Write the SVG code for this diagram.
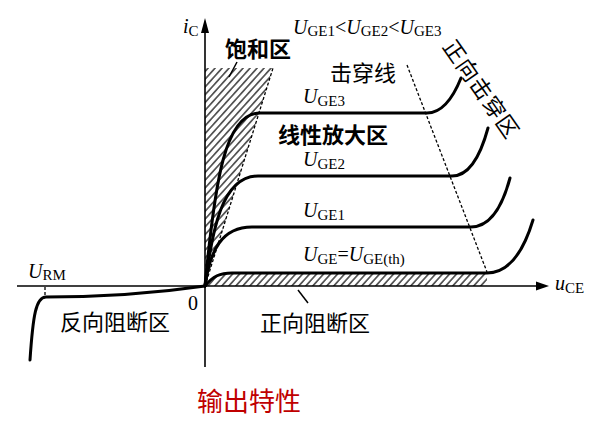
<svg xmlns="http://www.w3.org/2000/svg" width="598" height="433" viewBox="0 0 598 433">
<style>
.ax{stroke:#000;stroke-width:1.6;fill:none}
.cv{stroke:#000;stroke-width:3;fill:none;stroke-linecap:round}
.dash{stroke:#000;stroke-width:1.3;fill:none;stroke-dasharray:3 2}
.thin{stroke:#000;stroke-width:1.5;fill:none}
.lt{font-family:"Liberation Serif",serif;font-size:20px;fill:#000}
.it{font-style:italic}
.sb{font-size:15px;font-style:normal}
.cj{font-family:"Noto Sans CJK SC",sans-serif;font-size:22px;fill:#000}
.bd{font-weight:bold}
</style>
<defs>
<pattern id="hatch" patternUnits="userSpaceOnUse" width="5.2" height="5.2" patternTransform="rotate(42)">
<line x1="2.6" y1="0" x2="2.6" y2="5.2" stroke="#000" stroke-width="1.15"/>
</pattern>
</defs>
<rect width="598" height="433" fill="#fff"/>
<g id="hatching">
<path d="M205,68 L273,68 L205,286 Z" fill="url(#hatch)"/>
<path d="M205,286 C213,276 220,273 232,273 L487,273 L487,286 Z" fill="url(#hatch)"/>
</g>
<g id="axes">
<line class="ax" x1="205" y1="367" x2="205" y2="30"/>
<polygon points="205,18 201,33 209,33" fill="#000"/>
<line class="ax" x1="17" y1="286" x2="540" y2="286"/>
<polygon points="549,286 536,281.5 536,290.5" fill="#000"/>
</g>
<g id="connectors">
<path class="dash" d="M205,286 L273,68"/>
<path class="dash" d="M407,65 L487,272"/>
<path class="dash" d="M45,287 L45,297"/>
<path class="thin" d="M237,62 L229,77"/>
<path class="thin" d="M298,290 L308,303"/>
</g>
<g id="curves">
<path id="curve-th" class="cv" d="M205,286 C213,276 220,273 232,273 L487,273 Q517,273 533,220"/>
<path id="curve-ge1" class="cv" d="M205,286 C210,250 222,227 252,227 L471,227 Q497,227 510,178"/>
<path id="curve-ge2" class="cv" d="M205,286 C212,230 222,176 258,176 L452,176 Q475,176 488,128"/>
<path id="curve-ge3" class="cv" d="M205,286 C215,180 225,113 260,113 L427,113 Q447,113 461,78"/>
<path id="curve-rev" class="cv" d="M205,286 C150,294 100,297 46,297 C36,297 33,315 30,360"/>
</g>
<g id="labels">
<text class="lt it" x="183" y="33">i<tspan class="sb" dy="3">C</tspan></text>
<text class="lt it" x="555" y="290">u<tspan class="sb" dy="3">CE</tspan></text>
<text class="lt" x="188" y="310">0</text>
<text class="lt it" x="28" y="278">U<tspan class="sb" dy="2">RM</tspan></text>
<text class="lt it" x="293" y="34">U<tspan class="sb" dy="2">GE1</tspan><tspan font-style="normal" dy="-2">&lt;</tspan>U<tspan class="sb" dy="2">GE2</tspan><tspan font-style="normal" dy="-2">&lt;</tspan>U<tspan class="sb" dy="2">GE3</tspan></text>
<text class="lt it" x="303" y="103">U<tspan class="sb" dy="3">GE3</tspan></text>
<text class="lt it" x="303" y="166">U<tspan class="sb" dy="3">GE2</tspan></text>
<text class="lt it" x="303" y="217">U<tspan class="sb" dy="3">GE1</tspan></text>
<text class="lt it" x="303" y="261">U<tspan class="sb" dy="3">GE</tspan><tspan font-style="normal" dy="-3">=</tspan>U<tspan class="sb" dy="3">GE(th)</tspan></text>
<text class="cj bd" x="225" y="57">饱和区</text>
<text class="cj" x="330" y="81" font-size="21" fill="#333">击穿线</text>
<text class="cj bd" x="278" y="143">线性放大区</text>
<text class="cj" x="260" y="331">正向阻断区</text>
<text class="cj" x="60" y="330">反向阻断区</text>
<text class="cj" x="0" y="0" font-size="21" letter-spacing="1" text-anchor="middle" dominant-baseline="central" transform="translate(483,88) rotate(55)">正向击穿区</text>
<text x="197" y="411" font-family="'Noto Sans CJK SC',sans-serif" font-size="26" fill="#C00000">输出特性</text>
</g>
</svg>
